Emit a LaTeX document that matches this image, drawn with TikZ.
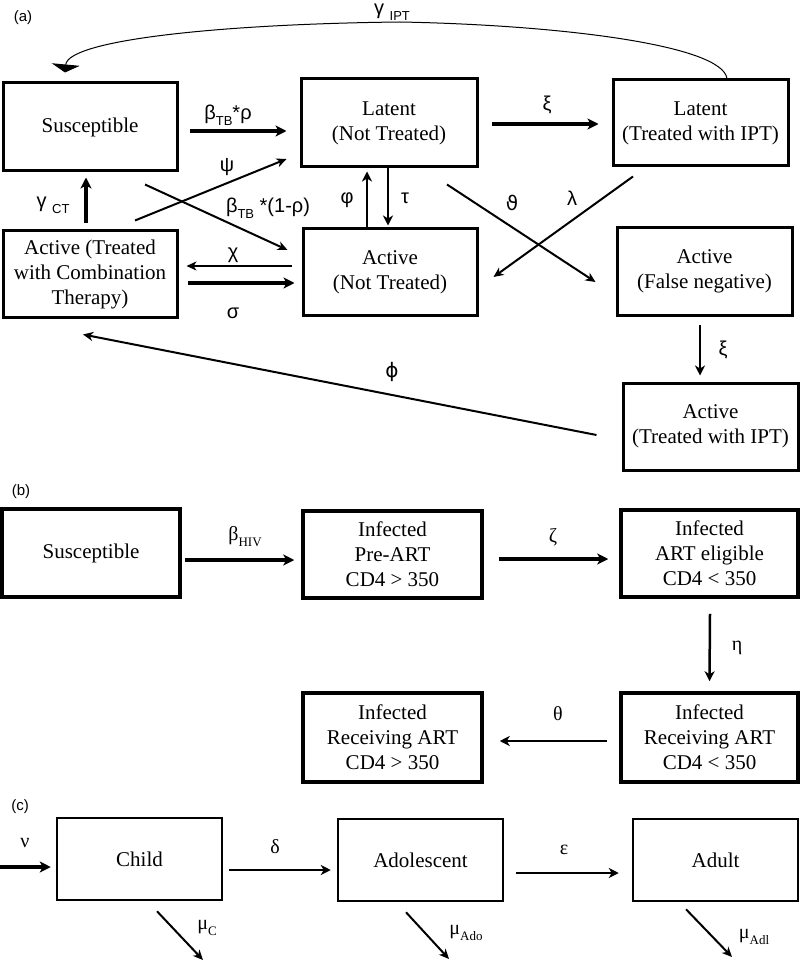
\documentclass[tikz,border=0pt]{standalone}
\usepackage{fontspec}
\setmainfont{Liberation Serif}
\newfontfamily\lsans{Liberation Sans}
\newfontfamily\dvsans{DejaVu Sans}
\usetikzlibrary{arrows.meta}
\newcommand\sbs[1]{\raisebox{-0.3em}{\fontsize{13}{13}\selectfont #1}}
\tikzset{
  box/.style={draw, line width=3pt, align=center, inner sep=0pt, font=\fontsize{21}{25}\selectfont},
  boxb/.style={box, line width=3.5pt},
  boxc/.style={box, line width=2.5pt},
  lbla/.style={inner sep=0pt, font=\lsans\fontsize{20}{22}\selectfont},
  lblb/.style={inner sep=0pt, font=\fontsize{20}{22}\selectfont},
  panel/.style={inner sep=0pt, font=\lsans\fontsize{15}{17}\selectfont},
  thickarrow/.style={line width=3.5pt, -{Stealth[length=11pt,width=11pt,inset=3pt]}},
  medarrow/.style={line width=2.5pt, -{Stealth[length=10pt,width=10pt,inset=3pt]}},
  thinarrow/.style={line width=2pt, -{Stealth[length=10pt,width=9pt,inset=3pt]}},
  curvearrow/.style={line width=1pt, -{Triangle[length=8pt,width=28pt]}}
}
\begin{document}
\begin{tikzpicture}[x=1pt,y=-1pt]
\useasboundingbox (0,0) rectangle (800,965);

% ---------- (a) ----------
\node[panel] (pa) at (23,18) {(a)};
\node[box, minimum width=174pt, minimum height=88pt] (sus) at (90,127) {Susceptible};
\node[box, minimum width=176pt, minimum height=88pt] (lnt) at (389,123) {Latent\\(Not Treated)};
\node[box, minimum width=175pt, minimum height=86pt] (lipt) at (700.5,123) {Latent\\(Treated with IPT)};
\node[box, minimum width=174pt, minimum height=86pt] (act) at (90,274) {Active (Treated\\with Combination\\Therapy)};
\node[box, minimum width=174pt, minimum height=86pt] (ant) at (390,272) {Active\\(Not Treated)};
\node[box, minimum width=175pt, minimum height=87pt] (afn) at (704.5,271.5) {Active\\(False negative)};
\node[box, minimum width=175pt, minimum height=87pt] (aipt) at (710.5,426.5) {Active\\(Treated with IPT)};

% gamma IPT curve
\draw[curvearrow] ([xshift=26.5pt]lipt.north) .. controls (722,45) and (560,25) .. (400,22)
   .. controls (220,24) and (68,40) .. ([xshift=-25pt,yshift=9pt]sus.north);
\node[lbla] (lgipt) at (392,12) {γ \sbs{IPT}};

% horizontal top arrows
\draw[thickarrow] ([xshift=11pt,yshift=-4pt]sus.east) -- ([xshift=-13pt,yshift=-8pt]lnt.west);
\node[lbla] (lbr) at (228,115) {β\sbs{TB}*ρ};
\draw[thickarrow] ([xshift=13pt,yshift=-1pt]lnt.east) -- ([xshift=-13pt,yshift=-1pt]lipt.west);
\node[lbla] (lxi1) at (547,105) {ξ};

% gamma CT
\draw[thickarrow] ([xshift=-4pt,yshift=6pt]act.north) -- ([xshift=-4pt,yshift=-5pt]sus.south);
\node[lbla] (lgct) at (53,205) {γ \sbs{CT}};

% crossing arrows left
\draw[thinarrow] ([xshift=45pt,yshift=9pt]act.north) -- ([xshift=-13pt,yshift=-36pt]lnt.west);
\node[lbla] (lpsi) at (227,167) {ψ};
\draw[thinarrow] ([xshift=55pt,yshift=-12pt]sus.south) -- ([xshift=-14pt,yshift=22pt]ant.west);
\node[lbla] (lbr2) at (268,208) {β\sbs{TB} *(1-ρ)};

% phi / tau
\draw[medarrow] ([xshift=-23pt]ant.north) -- ([xshift=-22pt,yshift=-3pt]lnt.south);
\node[lbla] (lvphi) at (347,200) {φ};
\draw[medarrow] ([xshift=-1pt]lnt.south) -- ([xshift=-2pt,yshift=2pt]ant.north);
\node[lbla] (ltau) at (405,198) {τ};

% chi / sigma
\draw[thinarrow] ([xshift=-10pt,yshift=6pt]ant.west) -- ([xshift=8pt,yshift=8pt]act.east);
\node[lbla] (lchi) at (233,255) {χ};
\draw[thickarrow] ([xshift=9pt,yshift=-9pt]act.east) -- ([xshift=-7pt,yshift=-11pt]ant.west);
\node[lbla] (lsig) at (233,313) {σ};

% crossing arrows right
\draw[thinarrow] ([xshift=58pt,yshift=-16pt]lnt.south) -- ([xshift=-20pt,yshift=-10.5pt]afn.west);
\node[lbla] (lvth) at (512,203) {\dvsans ϑ};
\draw[thinarrow] ([xshift=-67.5pt,yshift=-9pt]lipt.south) -- ([xshift=15pt,yshift=-5pt]ant.east);
\node[lbla] (llam) at (572,198) {λ};

% xi down
\draw[medarrow] ([xshift=-4.5pt,yshift=-8pt]afn.south) -- ([xshift=-10.5pt,yshift=6pt]aipt.north);
\node[lbla] (lxi2) at (723,350) {ξ};

% phi long
\draw[thinarrow] ([xshift=-25pt,yshift=-8.5pt]aipt.west) -- ([xshift=-7pt,yshift=-16pt]act.south);
\node[lbla] (lphi) at (392,372) {\dvsans ϕ};

% ---------- (b) ----------
\node[panel] (pb) at (21,492) {(b)};
\node[boxb, minimum width=178pt, minimum height=88pt] (bs) at (91,553) {Susceptible};
\node[boxb, minimum width=179pt, minimum height=87pt] (bpre) at (392.5,554.5) {Infected\\Pre-ART\\CD4 > 350};
\node[boxb, minimum width=177pt, minimum height=87pt] (belig) at (709.5,553.5) {Infected\\ART eligible\\CD4 < 350};
\node[boxb, minimum width=177pt, minimum height=89pt] (brecl) at (709.5,737.5) {Infected\\Receiving ART\\CD4 < 350};
\node[boxb, minimum width=179pt, minimum height=89pt] (brech) at (392.5,737.5) {Infected\\Receiving ART\\CD4 > 350};

\draw[thickarrow] ([xshift=3pt,yshift=-7pt]bs.east) -- ([xshift=-7pt,yshift=-5.5pt]bpre.west);
\node[lblb] (lbhiv) at (245,537) {β\sbs{HIV}};
\draw[thickarrow] ([xshift=15pt,yshift=-4.5pt]bpre.east) -- ([xshift=-11pt,yshift=-5.5pt]belig.west);
\node[lblb] (lzeta) at (553,537) {ζ};
\draw[medarrow] ([xshift=0.5pt,yshift=-15pt]belig.south) -- ([yshift=10pt]brecl.north);
\node[lblb] (leta) at (737,648) {η};
\draw[medarrow] ([xshift=-12pt,yshift=-3.5pt]brecl.west) -- ([xshift=16pt,yshift=-3.5pt]brech.east);
\node[lblb] (ltheta) at (558,714) {θ};

% ---------- (c) ----------
\node[panel] (pc) at (20,807) {(c)};
\node[boxc, minimum width=165pt, minimum height=82pt] (child) at (139.5,859) {Child};
\node[boxc, minimum width=165pt, minimum height=82pt] (ado) at (420.5,860) {Adolescent};
\node[boxc, minimum width=165pt, minimum height=82pt] (adult) at (715.5,860) {Adult};

\coordinate (nuin) at (0,867);
\draw[thickarrow] (nuin) -- ([xshift=-5pt,yshift=-8pt]child.west);
\node[lblb] (lnu) at (25,843) {ν};
\draw[medarrow] ([xshift=6pt,yshift=-11pt]child.east) -- ([xshift=-6pt,yshift=-10pt]ado.west);
\node[lblb] (ldelta) at (275,847) {δ};
\draw[medarrow] ([xshift=12pt,yshift=-13pt]ado.east) -- ([xshift=-13pt,yshift=-13pt]adult.west);
\node[lblb] (leps) at (564,850) {ε};

\coordinate (muc) at (203,960);
\coordinate (muado) at (449,959);
\coordinate (muadl) at (732,957);
\draw[thinarrow] ([xshift=17.5pt,yshift=-10pt]child.south) -- (muc);
\node[lblb] (lmuc) at (207,928) {μ\sbs{C}};
\draw[thinarrow] ([xshift=-14.5pt,yshift=-10pt]ado.south) -- (muado);
\node[lblb] (lmuado) at (466,933) {μ\sbs{Ado}};
\draw[thinarrow] ([xshift=-29.5pt,yshift=-7pt]adult.south) -- (muadl);
\node[lblb] (lmuadl) at (754,937) {μ\sbs{Adl}};
\end{tikzpicture}
\end{document}
